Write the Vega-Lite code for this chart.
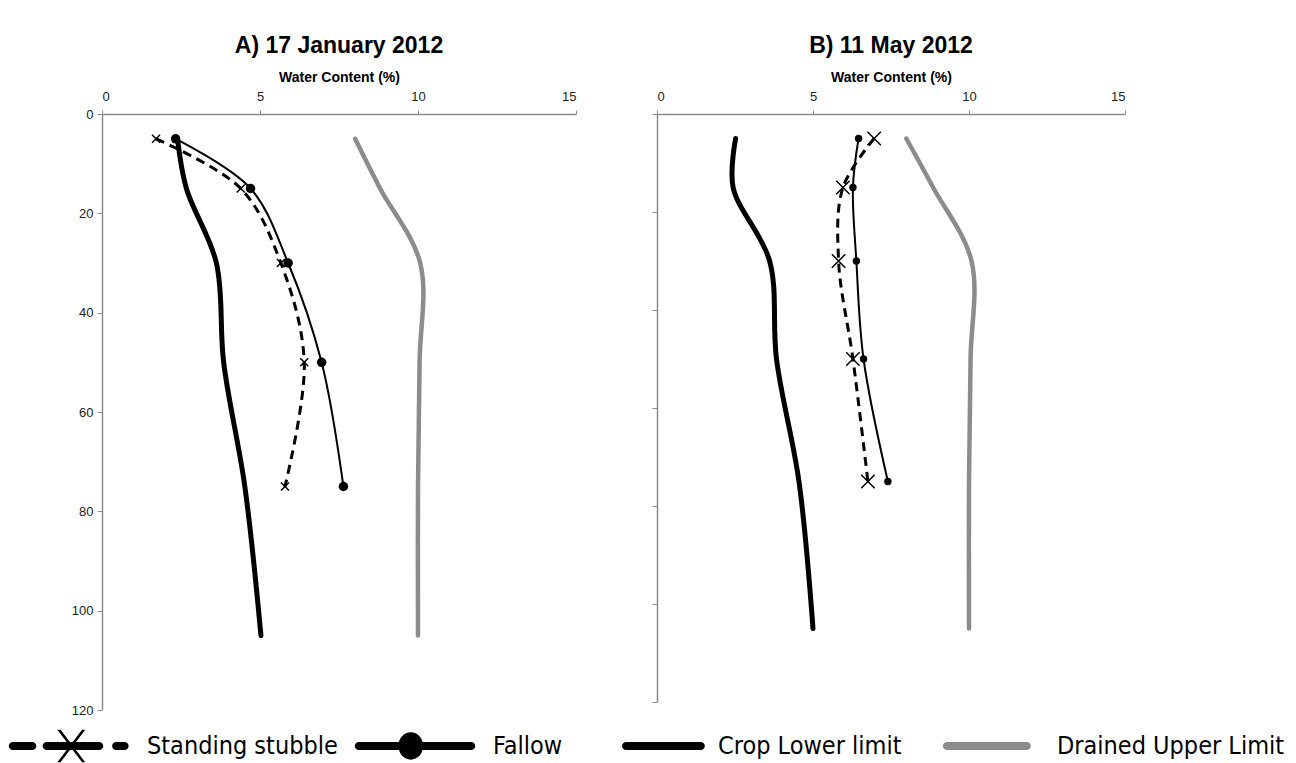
{
  "$schema": "https://vega.github.io/schema/vega-lite/v6.json",
  "padding": {"left": 5, "top": 35, "right": 5, "bottom": 0},
  "config": {
    "font": "Liberation Sans",
    "view": {"stroke": null},
    "axis": {
      "grid": false,
      "domainColor": "#8c8c8c",
      "domainWidth": 1.5,
      "tickColor": "#8c8c8c",
      "tickWidth": 1,
      "labelColor": "#222222",
      "labelFontSize": 13,
      "labelFont": "Liberation Sans",
      "titleFont": "Liberation Sans",
      "titleFontSize": 14,
      "titleFontWeight": "bold",
      "titleColor": "#000000"
    },
    "title": {"font": "Liberation Sans", "fontSize": 23, "fontWeight": "bold", "color": "#000000", "offset": 12}
  },
  "data": {
    "values": [
      {"p": "A", "s": "Standing stubble", "d": 5, "w": 1.71},
      {"p": "A", "s": "Standing stubble", "d": 15, "w": 4.39},
      {"p": "A", "s": "Standing stubble", "d": 30, "w": 5.66},
      {"p": "A", "s": "Standing stubble", "d": 50, "w": 6.4},
      {"p": "A", "s": "Standing stubble", "d": 75, "w": 5.79},
      {"p": "A", "s": "Fallow", "d": 5, "w": 2.33},
      {"p": "A", "s": "Fallow", "d": 15, "w": 4.7},
      {"p": "A", "s": "Fallow", "d": 30, "w": 5.89},
      {"p": "A", "s": "Fallow", "d": 50, "w": 6.95},
      {"p": "A", "s": "Fallow", "d": 75, "w": 7.64},
      {"p": "A", "s": "Crop Lower limit", "d": 5, "w": 2.39},
      {"p": "A", "s": "Crop Lower limit", "d": 15, "w": 2.67},
      {"p": "A", "s": "Crop Lower limit", "d": 30, "w": 3.62},
      {"p": "A", "s": "Crop Lower limit", "d": 50, "w": 3.85},
      {"p": "A", "s": "Crop Lower limit", "d": 75, "w": 4.52},
      {"p": "A", "s": "Crop Lower limit", "d": 105, "w": 5.03},
      {"p": "A", "s": "Drained Upper Limit", "d": 5, "w": 8.01},
      {"p": "A", "s": "Drained Upper Limit", "d": 15, "w": 8.8},
      {"p": "A", "s": "Drained Upper Limit", "d": 30, "w": 10.07},
      {"p": "A", "s": "Drained Upper Limit", "d": 50, "w": 10.05},
      {"p": "A", "s": "Drained Upper Limit", "d": 75, "w": 10.0},
      {"p": "A", "s": "Drained Upper Limit", "d": 105, "w": 10.0},
      {"p": "B", "s": "Standing stubble", "d": 5, "w": 6.96},
      {"p": "B", "s": "Standing stubble", "d": 15, "w": 5.96},
      {"p": "B", "s": "Standing stubble", "d": 30, "w": 5.82},
      {"p": "B", "s": "Standing stubble", "d": 50, "w": 6.28},
      {"p": "B", "s": "Standing stubble", "d": 75, "w": 6.76},
      {"p": "B", "s": "Fallow", "d": 5, "w": 6.46},
      {"p": "B", "s": "Fallow", "d": 15, "w": 6.28},
      {"p": "B", "s": "Fallow", "d": 30, "w": 6.39},
      {"p": "B", "s": "Fallow", "d": 50, "w": 6.62},
      {"p": "B", "s": "Fallow", "d": 75, "w": 7.4},
      {"p": "B", "s": "Crop Lower limit", "d": 5, "w": 2.52},
      {"p": "B", "s": "Crop Lower limit", "d": 15, "w": 2.44},
      {"p": "B", "s": "Crop Lower limit", "d": 30, "w": 3.61},
      {"p": "B", "s": "Crop Lower limit", "d": 50, "w": 3.83},
      {"p": "B", "s": "Crop Lower limit", "d": 75, "w": 4.55},
      {"p": "B", "s": "Crop Lower limit", "d": 105, "w": 5.0},
      {"p": "B", "s": "Drained Upper Limit", "d": 5, "w": 7.99},
      {"p": "B", "s": "Drained Upper Limit", "d": 15, "w": 8.85},
      {"p": "B", "s": "Drained Upper Limit", "d": 30, "w": 10.08},
      {"p": "B", "s": "Drained Upper Limit", "d": 50, "w": 10.05},
      {"p": "B", "s": "Drained Upper Limit", "d": 75, "w": 10.0},
      {"p": "B", "s": "Drained Upper Limit", "d": 105, "w": 10.0}
    ]
  },
  "spacing": 74,
  "hconcat": [
    {
      "width": 474,
      "height": 596,
      "title": {"text": "A) 17 January 2012"},
      "transform": [{"filter": "datum.p === 'A'"}],
      "encoding": {
        "x": {"field": "w", "type": "quantitative", "scale": {"domain": [0, 15], "nice": false},
              "axis": {"orient": "top", "values": [0, 5, 10, 15], "title": "Water Content (%)", "tickSize": 4, "labelPadding": 7, "titlePadding": 6}},
        "y": {"field": "d", "type": "quantitative", "scale": {"domain": [0, 120], "reverse": true, "nice": false},
              "axis": {"values": [0, 20, 40, 60, 80, 100, 120], "title": null, "tickSize": 5, "labelPadding": 4}},
        "order": {"field": "d", "type": "quantitative"}
      },
      "layer": [
        {
          "transform": [{"filter": "datum.s === 'Drained Upper Limit'"}],
          "mark": {"type": "line", "interpolate": "catmull-rom", "strokeWidth": 4.5, "strokeCap": "round"},
          "encoding": {
            "color": {
              "field": "s", "type": "nominal",
              "scale": {"domain": ["Standing stubble", "Fallow", "Crop Lower limit", "Drained Upper Limit"], "range": ["#000000", "#000000", "#000000", "#8c8c8c"]},
              "legend": {
                "title": null,
                "orient": "none",
                "direction": "horizontal",
                "legendX": -97,
                "legendY": 614,
                "symbolSize": 16900,
                "clipHeight": 36,
                "labelFont": "DejaVu Sans Condensed, Liberation Sans Narrow, Roboto Condensed, Liberation Sans",
                "labelFontSize": 25,
                "labelColor": "#000000",
                "labelOffset": 12,
                "labelLimit": 600,
                "columnPadding": 13,
                "encode": {
                  "symbols": {
                    "update": {
                      "shape": {"signal": "datum.value === 'Standing stubble' ? 'M-0.88,-0.062H-0.58A0.062,0.062 0 0 1 -0.58,0.062H-0.88A0.062,0.062 0 0 1 -0.88,-0.062ZM-0.36,-0.062H0.45A0.062,0.062 0 0 1 0.45,0.062H-0.36A0.062,0.062 0 0 1 -0.36,-0.062ZM0.71,-0.062H0.84A0.062,0.062 0 0 1 0.84,0.062H0.71A0.062,0.062 0 0 1 0.71,-0.062ZM-0.195,-0.25L-0.145,-0.25L0.235,0.25L0.185,0.25ZM0.185,-0.25L0.235,-0.25L-0.145,0.25L-0.195,0.25Z' : datum.value === 'Fallow' ? 'M-0.88,-0.062H0.85A0.062,0.062 0 0 1 0.85,0.062H-0.88A0.062,0.062 0 0 1 -0.88,-0.062ZM-0.27,0A0.19,0.21 0 1 1 0.11,0A0.19,0.21 0 1 1 -0.27,0Z' : datum.value === 'Crop Lower limit' ? 'M-0.23,-0.062H0.92A0.062,0.062 0 0 1 0.92,0.062H-0.23A0.062,0.062 0 0 1 -0.23,-0.062Z' : 'M-0.51,-0.062H0.72A0.062,0.062 0 0 1 0.72,0.062H-0.51A0.062,0.062 0 0 1 -0.51,-0.062Z'"},
                      "fill": {"signal": "datum.value === 'Drained Upper Limit' ? '#8c8c8c' : '#000000'"},
                      "stroke": {"value": "transparent"},
                      "strokeWidth": {"value": 0},
                      "opacity": {"value": 1}
                    }
                  }
                }
              }
            }
          }
        },
        {
          "transform": [{"filter": "datum.s === 'Crop Lower limit'"}],
          "mark": {"type": "line", "interpolate": "catmull-rom", "strokeWidth": 5, "strokeCap": "round"},
          "encoding": {"color": {"field": "s", "type": "nominal"}}
        },
        {
          "transform": [{"filter": "datum.s === 'Fallow'"}],
          "mark": {"type": "line", "interpolate": "catmull-rom", "strokeWidth": 2},
          "encoding": {"color": {"field": "s", "type": "nominal"}}
        },
        {
          "transform": [{"filter": "datum.s === 'Standing stubble'"}],
          "mark": {"type": "line", "interpolate": "catmull-rom", "strokeWidth": 3, "strokeDash": [9, 6]},
          "encoding": {"color": {"field": "s", "type": "nominal"}}
        },
        {
          "transform": [{"filter": "datum.s === 'Fallow'"}],
          "mark": {"type": "point", "shape": "circle", "filled": true, "size": 90, "color": "#000000", "opacity": 1}
        },
        {
          "transform": [{"filter": "datum.s === 'Standing stubble'"}],
          "mark": {"type": "point", "shape": "M-1,-1L1,1M-1,1L1,-1", "filled": false, "size": 64, "stroke": "#000000", "strokeWidth": 1.5, "opacity": 1}
        }
      ]
    },
    {
      "width": 468,
      "height": 588,
      "title": {"text": "B) 11 May 2012"},
      "transform": [{"filter": "datum.p === 'B'"}],
      "encoding": {
        "x": {"field": "w", "type": "quantitative", "scale": {"domain": [0, 15], "nice": false},
              "axis": {"orient": "top", "values": [0, 5, 10, 15], "title": "Water Content (%)", "tickSize": 4, "labelPadding": 7, "titlePadding": 6}},
        "y": {"field": "d", "type": "quantitative", "scale": {"domain": [0, 120], "reverse": true, "nice": false},
              "axis": {"values": [0, 20, 40, 60, 80, 100, 120], "title": null, "labels": false, "tickSize": 5}},
        "order": {"field": "d", "type": "quantitative"}
      },
      "layer": [
        {
          "transform": [{"filter": "datum.s === 'Drained Upper Limit'"}],
          "mark": {"type": "line", "interpolate": "catmull-rom", "strokeWidth": 4.5, "strokeCap": "round"},
          "encoding": {"color": {"field": "s", "type": "nominal"}}
        },
        {
          "transform": [{"filter": "datum.s === 'Crop Lower limit'"}],
          "mark": {"type": "line", "interpolate": "catmull-rom", "strokeWidth": 5, "strokeCap": "round"},
          "encoding": {"color": {"field": "s", "type": "nominal"}}
        },
        {
          "transform": [{"filter": "datum.s === 'Fallow'"}],
          "mark": {"type": "line", "interpolate": "catmull-rom", "strokeWidth": 2},
          "encoding": {"color": {"field": "s", "type": "nominal"}}
        },
        {
          "transform": [{"filter": "datum.s === 'Standing stubble'"}],
          "mark": {"type": "line", "interpolate": "catmull-rom", "strokeWidth": 3, "strokeDash": [9, 6]},
          "encoding": {"color": {"field": "s", "type": "nominal"}}
        },
        {
          "transform": [{"filter": "datum.s === 'Fallow'"}],
          "mark": {"type": "point", "shape": "circle", "filled": true, "size": 55, "color": "#000000", "opacity": 1}
        },
        {
          "transform": [{"filter": "datum.s === 'Standing stubble'"}],
          "mark": {"type": "point", "shape": "M-1,-1L1,1M-1,1L1,-1", "filled": false, "size": 180, "stroke": "#000000", "strokeWidth": 1.5, "opacity": 1}
        }
      ]
    }
  ]
}
